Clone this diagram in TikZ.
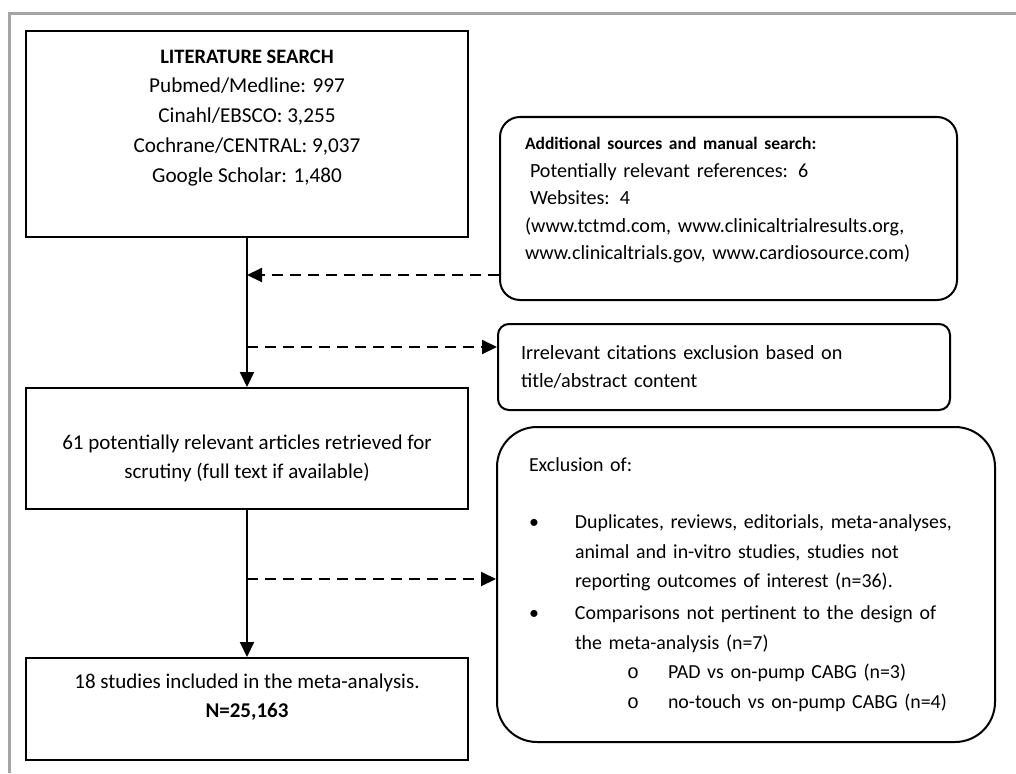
\documentclass[tikz,border=0pt]{standalone}
\usepackage{fontspec}
\setmainfont{Carlito}
\newfontfamily\subbulletfont{Liberation Mono}
\usetikzlibrary{arrows.meta}
\definecolor{framegray}{RGB}{165,165,165}

\begin{document}
\begin{tikzpicture}[
    x=1pt, y=-1pt,
    box/.style={draw, line width=2pt, inner sep=0pt, align=center},
    rbox/.style={draw, line width=2pt, inner sep=0pt, align=left, rounded corners=#1},
    flow/.style={line width=2pt},
    skip/.style={line width=2pt, dash pattern=on 11pt off 7pt},
    >={Triangle[length=15pt, width=14pt]},
    font=\fontsize{21}{29.5}\selectfont
]
    \useasboundingbox (0,0) rectangle (1016,773);
    % frame
    \draw[line width=3pt, framegray] (9,773) |- (1016,14);

    % main column
    \node[box, minimum width=442, minimum height=206, font=\fontsize{21.2}{29.75}\selectfont] (lit) at (247,134)
        {{\fontsize{20.5}{29.75}\selectfont\textbf{LITERATURE SEARCH}}\\Pubmed/Medline: 997\\Cinahl/EBSCO: 3,255\\
         Cochrane/CENTRAL: 9,037\\Google Scholar: 1,480\rule[-36pt]{0pt}{36pt}};
    \node[box, minimum width=442, minimum height=121] (art) at (247,448.5)
        {\rule{0pt}{34pt}61 potentially relevant articles retrieved for\\scrutiny (full text if available)};
    \node[box, minimum width=442, minimum height=102] (stud) at (247,709)
        {18 studies included in the meta-analysis.\\\textbf{N=25,163}\rule[-27pt]{0pt}{27pt}};

    % side boxes
    \node[rbox=20, minimum width=457, minimum height=183, text width=407,
          font=\fontsize{20.1}{27.5}\selectfont] (add) at (728.5,208.5)
        {{\fontsize{17.5}{27.5}\selectfont\textbf{Additional sources and manual search:}}\\
         \hspace*{5pt}Potentially relevant references: 6\\
         \hspace*{5pt}Websites: 4\\
         (www.tctmd.com, www.clinicaltrialresults.org,\\
         www.clinicaltrials.gov, www.cardiosource.com)\rule[-20pt]{0pt}{20pt}};
    \node[rbox=11, minimum width=452, minimum height=86, text width=406,
          font=\fontsize{20.2}{28}\selectfont] (irr) at (724,367)
        {Irrelevant citations exclusion based on\\title/abstract content};
    \node[rbox=40, minimum width=498, minimum height=315, text width=434,
          font=\fontsize{19.9}{29.5}\selectfont] (excl) at (746,584.5)
        {Exclusion of:\\[27.5pt]
         \makebox[46pt][l]{\textbullet}\mbox{Duplicates, reviews, editorials, meta-analyses,}\\
         \hspace*{46pt}animal and in-vitro studies, studies not\\
         \hspace*{46pt}reporting outcomes of interest (n=36).\\[2.5pt]
         \makebox[46pt][l]{\textbullet}Comparisons not pertinent to the design of\\
         \hspace*{46pt}the meta-analysis (n=7)\\
         \hspace*{98pt}\makebox[41pt][l]{\subbulletfont o}PAD vs on-pump CABG (n=3)\\
         \hspace*{98pt}\makebox[41pt][l]{\subbulletfont o}no-touch vs on-pump CABG (n=4)};

    % connectors
    \coordinate (j1) at (247,275);
    \coordinate (j2) at (247,347);
    \coordinate (j3) at (247,579);
    \draw[flow, ->] (lit) -- (art);
    \draw[flow, ->] (art) -- (stud);
    \draw[skip, ->] (add.west |- j1) -- (j1);
    \draw[skip, ->] (j2) -- (irr.west |- j2);
    \draw[skip, ->] (j3) -- (excl.west |- j3);
\end{tikzpicture}
\end{document}
